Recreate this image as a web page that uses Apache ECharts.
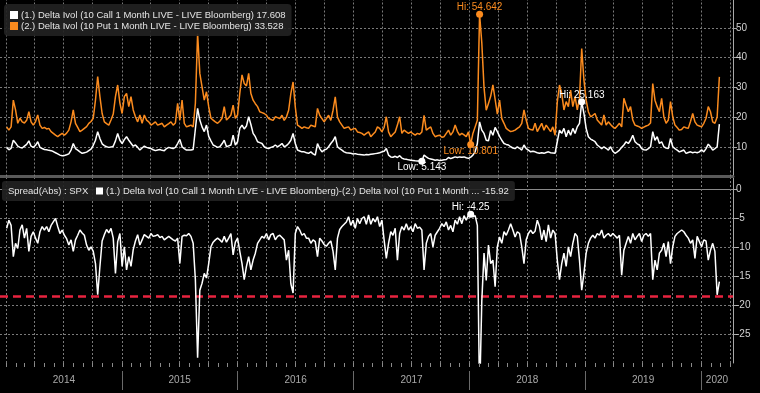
<!DOCTYPE html>
<html><head><meta charset="utf-8">
<script src="https://cdn.jsdelivr.net/npm/echarts@6/dist/echarts.min.js"></script>
<style>html,body{margin:0;padding:0;background:#000;}#c{width:760px;height:393px;}</style>
</head><body><div id="c"></div>
<script>
const callName = '(1.) Delta Ivol (10 Call 1 Month LIVE - LIVE Bloomberg)';
const putName = '(2.) Delta Ivol (10 Put 1 Month LIVE - LIVE Bloomberg)';
const spreadName = '(1.) Delta Ivol (10 Call 1 Month LIVE - LIVE Bloomberg)-(2.) Delta Ivol (10 Put 1 Month ...';
const spreadTitle = 'Spread(Abs) : SPX';
const firstWeek = [2014, 0, 3];   // weekly observations (Fridays)
const axisStart = [2013, 11, 13];
const axisEnd = [2020, 3, 11];
const yearLabels = ['2014', '2015', '2016', '2017', '2018', '2019', '2020'];
const thresholdLevel = -18.4;

const callVol = [
9.8, 9.0, 9.5, 12.2, 11.3, 10.2, 9.8, 9.6, 10.2, 10.8,
12.0, 10.2, 9.8, 10.5, 11.7, 9.8, 9.4, 9.1, 9.0, 8.8,
8.7, 8.4, 8.0, 7.6, 7.2, 7.0, 7.1, 7.3, 7.6, 8.9,
11.1, 9.4, 8.9, 8.3, 7.8, 8.0, 8.2, 8.7, 9.2, 10.5,
12.2, 15.1, 12.8, 11.0, 10.4, 10.0, 9.8, 9.9, 10.2, 12.0,
14.5, 12.2, 11.1, 12.4, 13.4, 12.2, 11.2, 10.2, 10.6, 9.8,
8.9, 9.6, 10.2, 9.8, 9.6, 9.4, 9.0, 8.7, 8.9, 9.1,
8.8, 8.7, 9.4, 9.8, 9.6, 9.4, 9.8, 11.1, 12.5, 10.0,
9.4, 8.9, 8.9, 8.9, 9.1, 16.0, 22.9, 19.0, 16.7, 15.1,
17.3, 13.5, 12.0, 10.6, 10.2, 9.8, 10.0, 11.0, 12.2, 10.0,
10.3, 10.6, 13.9, 10.6, 11.7, 16.2, 17.3, 16.0, 17.0, 20.1,
17.5, 14.5, 13.4, 11.7, 11.4, 11.1, 10.0, 9.6, 9.4, 9.8,
10.0, 10.6, 10.0, 10.5, 11.1, 10.0, 10.4, 11.1, 12.2, 14.5,
11.1, 8.9, 8.6, 8.3, 8.3, 8.0, 7.8, 8.3, 7.6, 7.2,
11.1, 9.4, 8.3, 8.9, 9.2, 10.0, 11.1, 12.0, 13.4, 10.0,
9.4, 8.9, 8.3, 8.0, 7.9, 7.8, 7.6, 7.7, 7.5, 7.4,
7.3, 7.2, 7.4, 7.3, 7.5, 7.6, 7.7, 7.8, 8.0, 8.3,
8.5, 9.4, 7.2, 6.6, 6.5, 6.8, 6.4, 7.0, 6.2, 5.9,
5.8, 5.6, 5.5, 5.4, 5.3, 5.25, 5.2, 5.143, 7.2, 6.6,
6.1, 5.9, 5.7, 5.5, 5.6, 5.4, 5.5, 5.6, 5.7, 6.4,
6.0, 6.3, 6.6, 6.4, 6.6, 6.5, 6.6, 6.3, 6.1, 6.5,
7.2, 8.3, 11.1, 18.4, 15.6, 14.5, 12.2, 12.0, 15.5, 13.9,
16.5, 15.1, 13.5, 12.2, 11.1, 10.8, 10.6, 10.0, 9.6, 9.4,
10.0, 9.5, 8.9, 10.6, 9.4, 8.9, 8.3, 8.5, 8.3, 8.0,
7.8, 8.0, 7.8, 8.1, 8.3, 8.0, 7.9, 7.8, 11.7, 15.6,
14.5, 16.2, 13.4, 15.6, 13.9, 16.2, 14.5, 16.7, 17.9, 25.163,
21.2, 16.2, 13.4, 12.6, 12.2, 11.7, 10.6, 10.0, 9.4, 10.0,
9.5, 8.9, 10.0, 8.5, 7.8, 8.3, 8.9, 9.8, 10.6, 11.7,
11.1, 12.2, 13.9, 11.7, 11.0, 10.6, 9.4, 9.0, 8.9, 9.4,
10.0, 15.1, 12.2, 13.4, 11.1, 11.7, 10.0, 9.6, 9.4, 12.8,
10.0, 9.4, 8.9, 8.3, 8.6, 8.9, 7.8, 8.1, 8.3, 8.0,
8.2, 8.0, 8.3, 9.0, 8.3, 9.4, 10.9, 10.0, 8.9, 9.4,
10.0, 17.608
];

const putVol = [
16.7, 15.6, 16.7, 25.7, 22.4, 17.9, 19.6, 18.4, 18.0, 18.9,
21.8, 18.4, 17.3, 18.5, 20.7, 17.3, 16.2, 16.5, 16.0, 16.2,
15.1, 14.5, 13.9, 13.4, 14.0, 14.5, 13.9, 14.6, 15.6, 18.4,
22.4, 17.9, 16.5, 15.1, 15.6, 16.2, 16.8, 17.9, 18.5, 19.6,
25.7, 33.6, 26.9, 21.2, 18.4, 17.8, 17.3, 19.0, 21.0, 26.9,
30.8, 24.7, 21.2, 26.9, 28.0, 23.5, 26.9, 22.4, 20.1, 18.4,
20.7, 17.9, 20.7, 19.0, 18.4, 17.3, 17.8, 18.4, 17.3, 17.6,
17.9, 16.7, 17.3, 17.8, 18.4, 17.3, 18.0, 24.6, 19.0, 25.7,
17.9, 16.7, 17.0, 17.3, 16.7, 24.6, 48.0, 34.7, 30.2, 25.7,
28.5, 23.5, 19.6, 19.0, 18.4, 17.9, 18.6, 19.6, 23.5, 19.0,
19.8, 20.7, 24.0, 19.6, 20.7, 28.0, 34.2, 31.3, 30.5, 34.7,
27.9, 25.7, 24.5, 23.5, 21.8, 21.5, 21.2, 20.6, 19.5, 19.2,
18.9, 20.1, 19.8, 19.5, 20.6, 18.9, 20.0, 22.3, 27.9, 31.8,
23.4, 17.3, 16.8, 16.2, 16.7, 16.4, 16.2, 17.3, 17.0, 16.7,
22.9, 20.6, 19.5, 18.4, 19.5, 20.6, 18.9, 22.3, 26.8, 20.0,
18.4, 17.3, 16.2, 16.5, 16.7, 15.6, 16.0, 16.2, 15.0, 14.8,
14.5, 13.9, 14.5, 15.0, 13.4, 14.2, 15.0, 16.7, 16.2, 15.0,
16.5, 20.1, 15.0, 13.4, 14.2, 15.0, 17.3, 20.1, 14.5, 15.6,
15.0, 14.5, 15.0, 14.4, 13.9, 14.5, 14.2, 15.0, 20.6, 15.6,
16.2, 16.7, 14.5, 13.4, 13.7, 13.9, 13.2, 13.4, 14.5, 15.6,
13.9, 15.0, 17.3, 15.2, 13.9, 14.5, 14.0, 13.4, 15.0, 10.801,
14.5, 16.7, 18.9, 54.642, 45.0, 30.0, 22.3, 24.6, 27.0, 30.8,
26.0, 21.0, 25.7, 19.5, 17.9, 16.2, 15.6, 15.1, 15.3, 15.6,
16.2, 16.7, 17.9, 22.4, 19.0, 16.2, 15.8, 15.6, 17.9, 15.1,
16.5, 17.9, 15.6, 17.3, 16.2, 15.1, 16.7, 13.9, 25.0, 30.8,
28.0, 22.4, 25.2, 23.5, 29.1, 23.5, 26.9, 22.4, 26.3, 43.1,
32.5, 25.7, 21.8, 20.1, 20.6, 21.2, 19.0, 18.2, 17.3, 20.7,
17.3, 18.4, 17.5, 16.7, 16.2, 17.0, 17.9, 16.7, 26.3, 24.0,
21.8, 23.5, 19.0, 17.3, 17.0, 16.7, 16.2, 16.6, 17.0, 17.3,
18.0, 31.3, 25.7, 23.5, 21.8, 26.3, 20.1, 17.9, 19.0, 25.2,
20.1, 17.3, 16.5, 15.6, 15.8, 16.7, 16.4, 16.2, 18.5, 21.2,
18.4, 17.3, 17.0, 16.7, 17.9, 19.6, 23.5, 21.8, 18.4, 17.9,
20.0, 33.528
];

const spreadVol = [
-6.7, -5.3, -6.2, -11.6, -9.3, -10.2, -7.0, -6.1, -8.4, -6.7,
-10.7, -8.1, -7.3, -8.4, -9.3, -7.3, -6.4, -7.0, -6.4, -7.3,
-6.2, -5.6, -5.0, -6.4, -7.6, -7.0, -7.9, -8.5, -9.6, -8.7,
-10.7, -8.7, -7.9, -7.0, -7.5, -7.9, -9.6, -10.5, -9.9, -10.7,
-12.8, -18.2, -13.3, -8.9, -7.8, -6.9, -7.5, -6.7, -8.4, -14.5,
-9.0, -7.6, -13.3, -9.9, -13.9, -11.6, -13.3, -10.4, -8.9, -7.8,
-9.6, -8.7, -7.8, -8.1, -8.4, -7.6, -8.1, -8.0, -7.8, -8.3,
-8.1, -8.7, -8.4, -8.1, -8.4, -8.7, -8.9, -8.4, -12.8, -8.1,
-7.9, -8.0, -7.6, -8.1, -9.3, -15.6, -29.1, -17.4, -16.2, -14.5,
-15.3, -12.8, -9.9, -9.1, -8.7, -8.4, -8.7, -9.1, -8.1, -9.1,
-8.4, -7.6, -11.3, -9.1, -8.4, -10.7, -12.8, -15.6, -13.3, -11.6,
-13.9, -12.2, -11.0, -9.3, -8.7, -8.1, -8.4, -7.6, -8.7, -7.8,
-7.6, -8.7, -8.1, -7.9, -8.3, -8.7, -12.2, -10.5, -16.3, -17.9,
-7.6, -6.4, -7.0, -7.9, -7.6, -8.4, -8.4, -9.3, -8.7, -9.0,
-11.6, -8.4, -8.9, -9.5, -9.8, -9.3, -8.9, -10.7, -13.9, -8.4,
-6.9, -6.4, -6.0, -5.6, -4.7, -6.2, -5.3, -6.7, -5.0, -5.9,
-5.0, -4.7, -6.0, -4.4, -6.0, -5.0, -5.6, -4.7, -6.4, -5.3,
-8.7, -11.9, -9.3, -7.3, -7.9, -6.7, -12.2, -7.6, -6.4, -7.0,
-5.9, -7.0, -6.4, -7.3, -5.9, -6.7, -6.5, -7.0, -13.9, -9.3,
-8.1, -7.6, -9.9, -7.9, -7.3, -6.7, -5.9, -6.4, -5.6, -7.0,
-6.2, -7.3, -5.3, -6.0, -4.7, -5.9, -4.5, -5.3, -4.4, -4.25,
-4.7, -4.5, -6.2, -36.2, -19.3, -11.0, -15.7, -9.6, -12.8, -12.2,
-16.8, -9.9, -8.2, -9.3, -7.3, -7.9, -7.0, -5.9, -7.0, -8.2,
-7.3, -7.6, -9.9, -12.8, -8.7, -7.6, -7.0, -7.6, -7.2, -5.3,
-6.4, -8.7, -7.0, -9.0, -6.1, -8.4, -7.0, -7.6, -12.2, -15.6,
-12.8, -11.0, -13.3, -9.9, -11.6, -9.3, -7.6, -8.1, -12.2, -17.4,
-14.5, -11.0, -9.3, -8.4, -7.9, -8.4, -7.6, -7.9, -7.0, -8.4,
-7.9, -7.6, -8.1, -7.6, -8.0, -8.4, -7.9, -14.8, -10.5, -9.3,
-8.1, -9.3, -7.6, -8.7, -8.1, -7.6, -9.0, -7.9, -7.6, -8.1,
-7.6, -15.6, -12.2, -13.9, -11.0, -10.5, -9.3, -11.6, -9.0, -12.8,
-9.9, -8.1, -7.6, -7.3, -7.0, -7.3, -7.9, -8.4, -9.3, -8.7,
-11.9, -8.1, -9.0, -9.9, -8.7, -8.9, -12.2, -10.5, -9.3, -10.7,
-18.2, -15.92
];

if (callVol.length !== putVol.length || callVol.length !== spreadVol.length) {
  throw new Error('lengths ' + callVol.length + ' ' + putVol.length + ' ' + spreadVol.length);
}

const weekDates = callVol.map((_, i) => new Date(firstWeek[0], firstWeek[1], firstWeek[2] + 7 * i).getTime());
const pair = arr => arr.map((v, i) => [weekDates[i], v]);
const axisMin = new Date(axisStart[0], axisStart[1], axisStart[2]).getTime();
const axisMax = new Date(axisEnd[0], axisEnd[1], axisEnd[2]).getTime();
const yearStarts = yearLabels.map(y => new Date(+y, 0, 1).getTime());
const yearCenters = yearStarts.map((s, i) => (s + (i + 1 < yearStarts.length ? yearStarts[i + 1] : axisMax)) / 2);
// calendar boundaries used for grid lines / ticks
const monthStarts = [];
for (let y = axisStart[0]; y <= axisEnd[0]; y++) {
  for (let m = 0; m < 12; m++) {
    const t = new Date(y, m, 1).getTime();
    if (t > axisMin && t < axisMax) monthStarts.push({ t: t, m: m });
  }
}
const quarterStarts = monthStarts.filter(d => d.m % 3 === 0).map(d => d.t);

const lastVal = {};
lastVal[callName] = callVol[callVol.length - 1];
lastVal[putName] = putVol[putVol.length - 1];
lastVal[spreadName] = spreadVol[spreadVol.length - 1];

const FONT = '"Liberation Sans", Arial, sans-serif';
const WHITE = '#ffffff', ORANGE = '#fb8b1e', GRID = '#7a7a7a', AXIS = '#a8a8a8', LBL = '#d2d2d2';
const gridLineStyle = { color: GRID, type: [2, 2], width: 1 };

function valAxis(gridIndex, min, max, interval) {
  return {
    type: 'value', gridIndex: gridIndex, position: 'right', min: min, max: max, interval: interval,
    axisLine: { show: true, lineStyle: { color: AXIS, width: 1 } },
    axisTick: { show: true, length: 4, lineStyle: { color: AXIS } },
    axisLabel: { color: LBL, fontSize: 10, fontFamily: FONT, margin: 3, showMinLabel: false, showMaxLabel: false },
    splitLine: { show: true, showMinLine: false, showMaxLine: false, lineStyle: gridLineStyle }
  };
}
const markLbl = (color, pos, fmt) => ({ show: true, position: pos, formatter: fmt, color: color, fontSize: 10, fontFamily: FONT, distance: -2 });
const vGrid = quarterStarts.map(t => ({ xAxis: t, lineStyle: gridLineStyle }));

const chart = echarts.init(document.getElementById('c'), null, { renderer: 'canvas' });
chart.setOption({
  backgroundColor: '#000000',
  animation: false,
  title: {
    text: spreadTitle, left: 8, top: 186, padding: 0,
    textStyle: { color: '#e4e4e4', fontSize: 9.5, fontWeight: 'normal', fontFamily: FONT }
  },
  legend: [{
    data: [callName, putName], orient: 'vertical', left: 4, top: 4,
    itemWidth: 8, itemHeight: 8, itemGap: 1, icon: 'rect', selectedMode: false,
    padding: [6, 6, 5, 6], backgroundColor: 'rgba(34,34,34,0.92)', borderRadius: 4,
    textStyle: { color: '#e4e4e4', fontSize: 9.5, fontFamily: FONT, padding: [0, 0, 0, -2] },
    formatter: n => n + ' ' + lastVal[n]
  }, {
    data: [spreadName], orient: 'horizontal', left: 2, top: 181,
    itemWidth: 7, itemHeight: 7, icon: 'rect', selectedMode: false,
    padding: [5, 6, 5, 94], backgroundColor: 'rgba(34,34,34,0.92)', borderRadius: 3,
    textStyle: { color: '#e4e4e4', fontSize: 9.5, fontFamily: FONT, padding: [0, 0, 0, -2] },
    formatter: n => n + ' ' + lastVal[n]
  }],
  grid: [
    { left: 0, right: 27, top: 0, height: 176.5 },
    { left: 0, right: 27, top: 178, height: 185 },
    { left: 0, right: 27, top: 371, height: 19 },
    { left: 0, right: 27, top: 363, height: 4 }
  ],
  xAxis: [
    { type: 'time', gridIndex: 0, min: axisMin, max: axisMax,
      axisLabel: { show: false }, axisTick: { show: false }, splitLine: { show: false },
      axisLine: { show: true, lineStyle: { color: '#5a5a5a', width: 3 } } },
    { type: 'time', gridIndex: 1, min: axisMin, max: axisMax,
      axisLabel: { show: false }, axisTick: { show: false }, splitLine: { show: false },
      axisLine: { show: true, lineStyle: { color: '#8a8a8a', width: 1 } } },
    { type: 'time', gridIndex: 2, min: axisMin, max: axisMax, show: false },
    { type: 'time', gridIndex: 3, min: axisMin, max: axisMax, show: false }
  ],
  yAxis: [
    valAxis(0, 0, 59.4, 10),
    valAxis(1, -30, 2, 5),
    { type: 'value', gridIndex: 2, min: 0, max: 1, show: false },
    { type: 'value', gridIndex: 3, min: 0, max: 1, show: false }
  ],
  series: [
    {
      name: callName, type: 'line', xAxisIndex: 0, yAxisIndex: 0, data: pair(callVol), z: 3,
      showSymbol: false, symbol: 'none', color: WHITE, lineStyle: { color: WHITE, width: 1.5 },
      markPoint: {
        symbol: 'circle', symbolSize: 7, itemStyle: { color: WHITE },
        data: [
          { type: 'max', valueIndex: 1, label: markLbl(WHITE, 'top', 'Hi: {c}') },
          { type: 'min', valueIndex: 1, label: markLbl(WHITE, 'bottom', 'Low: {c}') }
        ]
      },
      markLine: { symbol: 'none', silent: true, z: 1, label: { show: false }, data: vGrid }
    },
    {
      name: putName, type: 'line', xAxisIndex: 0, yAxisIndex: 0, data: pair(putVol), z: 3,
      showSymbol: false, symbol: 'none', color: ORANGE, lineStyle: { color: ORANGE, width: 1.5 },
      markPoint: {
        symbol: 'circle', symbolSize: 7, itemStyle: { color: ORANGE },
        data: [
          { type: 'max', valueIndex: 1, label: markLbl(ORANGE, 'top', 'Hi: {c}') },
          { type: 'min', valueIndex: 1, label: markLbl(ORANGE, 'bottom', 'Low: {c}') }
        ]
      }
    },
    {
      name: spreadName, type: 'line', xAxisIndex: 1, yAxisIndex: 1, data: pair(spreadVol), z: 3,
      showSymbol: false, symbol: 'none', clip: true, color: WHITE, lineStyle: { color: WHITE, width: 1.5 },
      markPoint: {
        symbol: 'circle', symbolSize: 7, itemStyle: { color: WHITE },
        data: [{ type: 'max', valueIndex: 1, label: markLbl(WHITE, 'top', 'Hi: {c}') }]
      },
      markLine: {
        symbol: 'none', silent: true, z: 1, label: { show: false },
        data: vGrid.concat([{ yAxis: thresholdLevel, lineStyle: { color: '#e8233f', type: [8, 5], width: 2.5 } }])
      }
    },
    {
      name: 'years', type: 'scatter', xAxisIndex: 2, yAxisIndex: 2, silent: true,
      symbol: 'circle', symbolSize: 1, itemStyle: { color: 'rgba(0,0,0,0)' },
      data: yearLabels.map((y, i) => ({ name: y, value: [yearCenters[i], 0.5] })),
      label: { show: true, position: 'inside', formatter: '{b}', color: LBL, fontSize: 10, fontFamily: FONT },
      labelLayout: { hideOverlap: false },
      markLine: {
        symbol: 'none', silent: true, label: { show: false },
        lineStyle: { color: '#6a6a6a', type: 'solid', width: 1 },
        data: yearStarts.slice(1).map(t => ({ xAxis: t }))
      }
    },
    {
      name: 'monthTicks', type: 'scatter', xAxisIndex: 3, yAxisIndex: 3, silent: true,
      symbol: 'circle', symbolSize: 1, itemStyle: { color: 'rgba(0,0,0,0)' },
      data: [[weekDates[0], 0.5]],
      markLine: {
        symbol: 'none', silent: true, label: { show: false },
        lineStyle: { color: '#8a8a8a', type: 'solid', width: 1 },
        data: monthStarts.map(d => ({ xAxis: d.t }))
      }
    }
  ]
});
</script>
</body></html>
